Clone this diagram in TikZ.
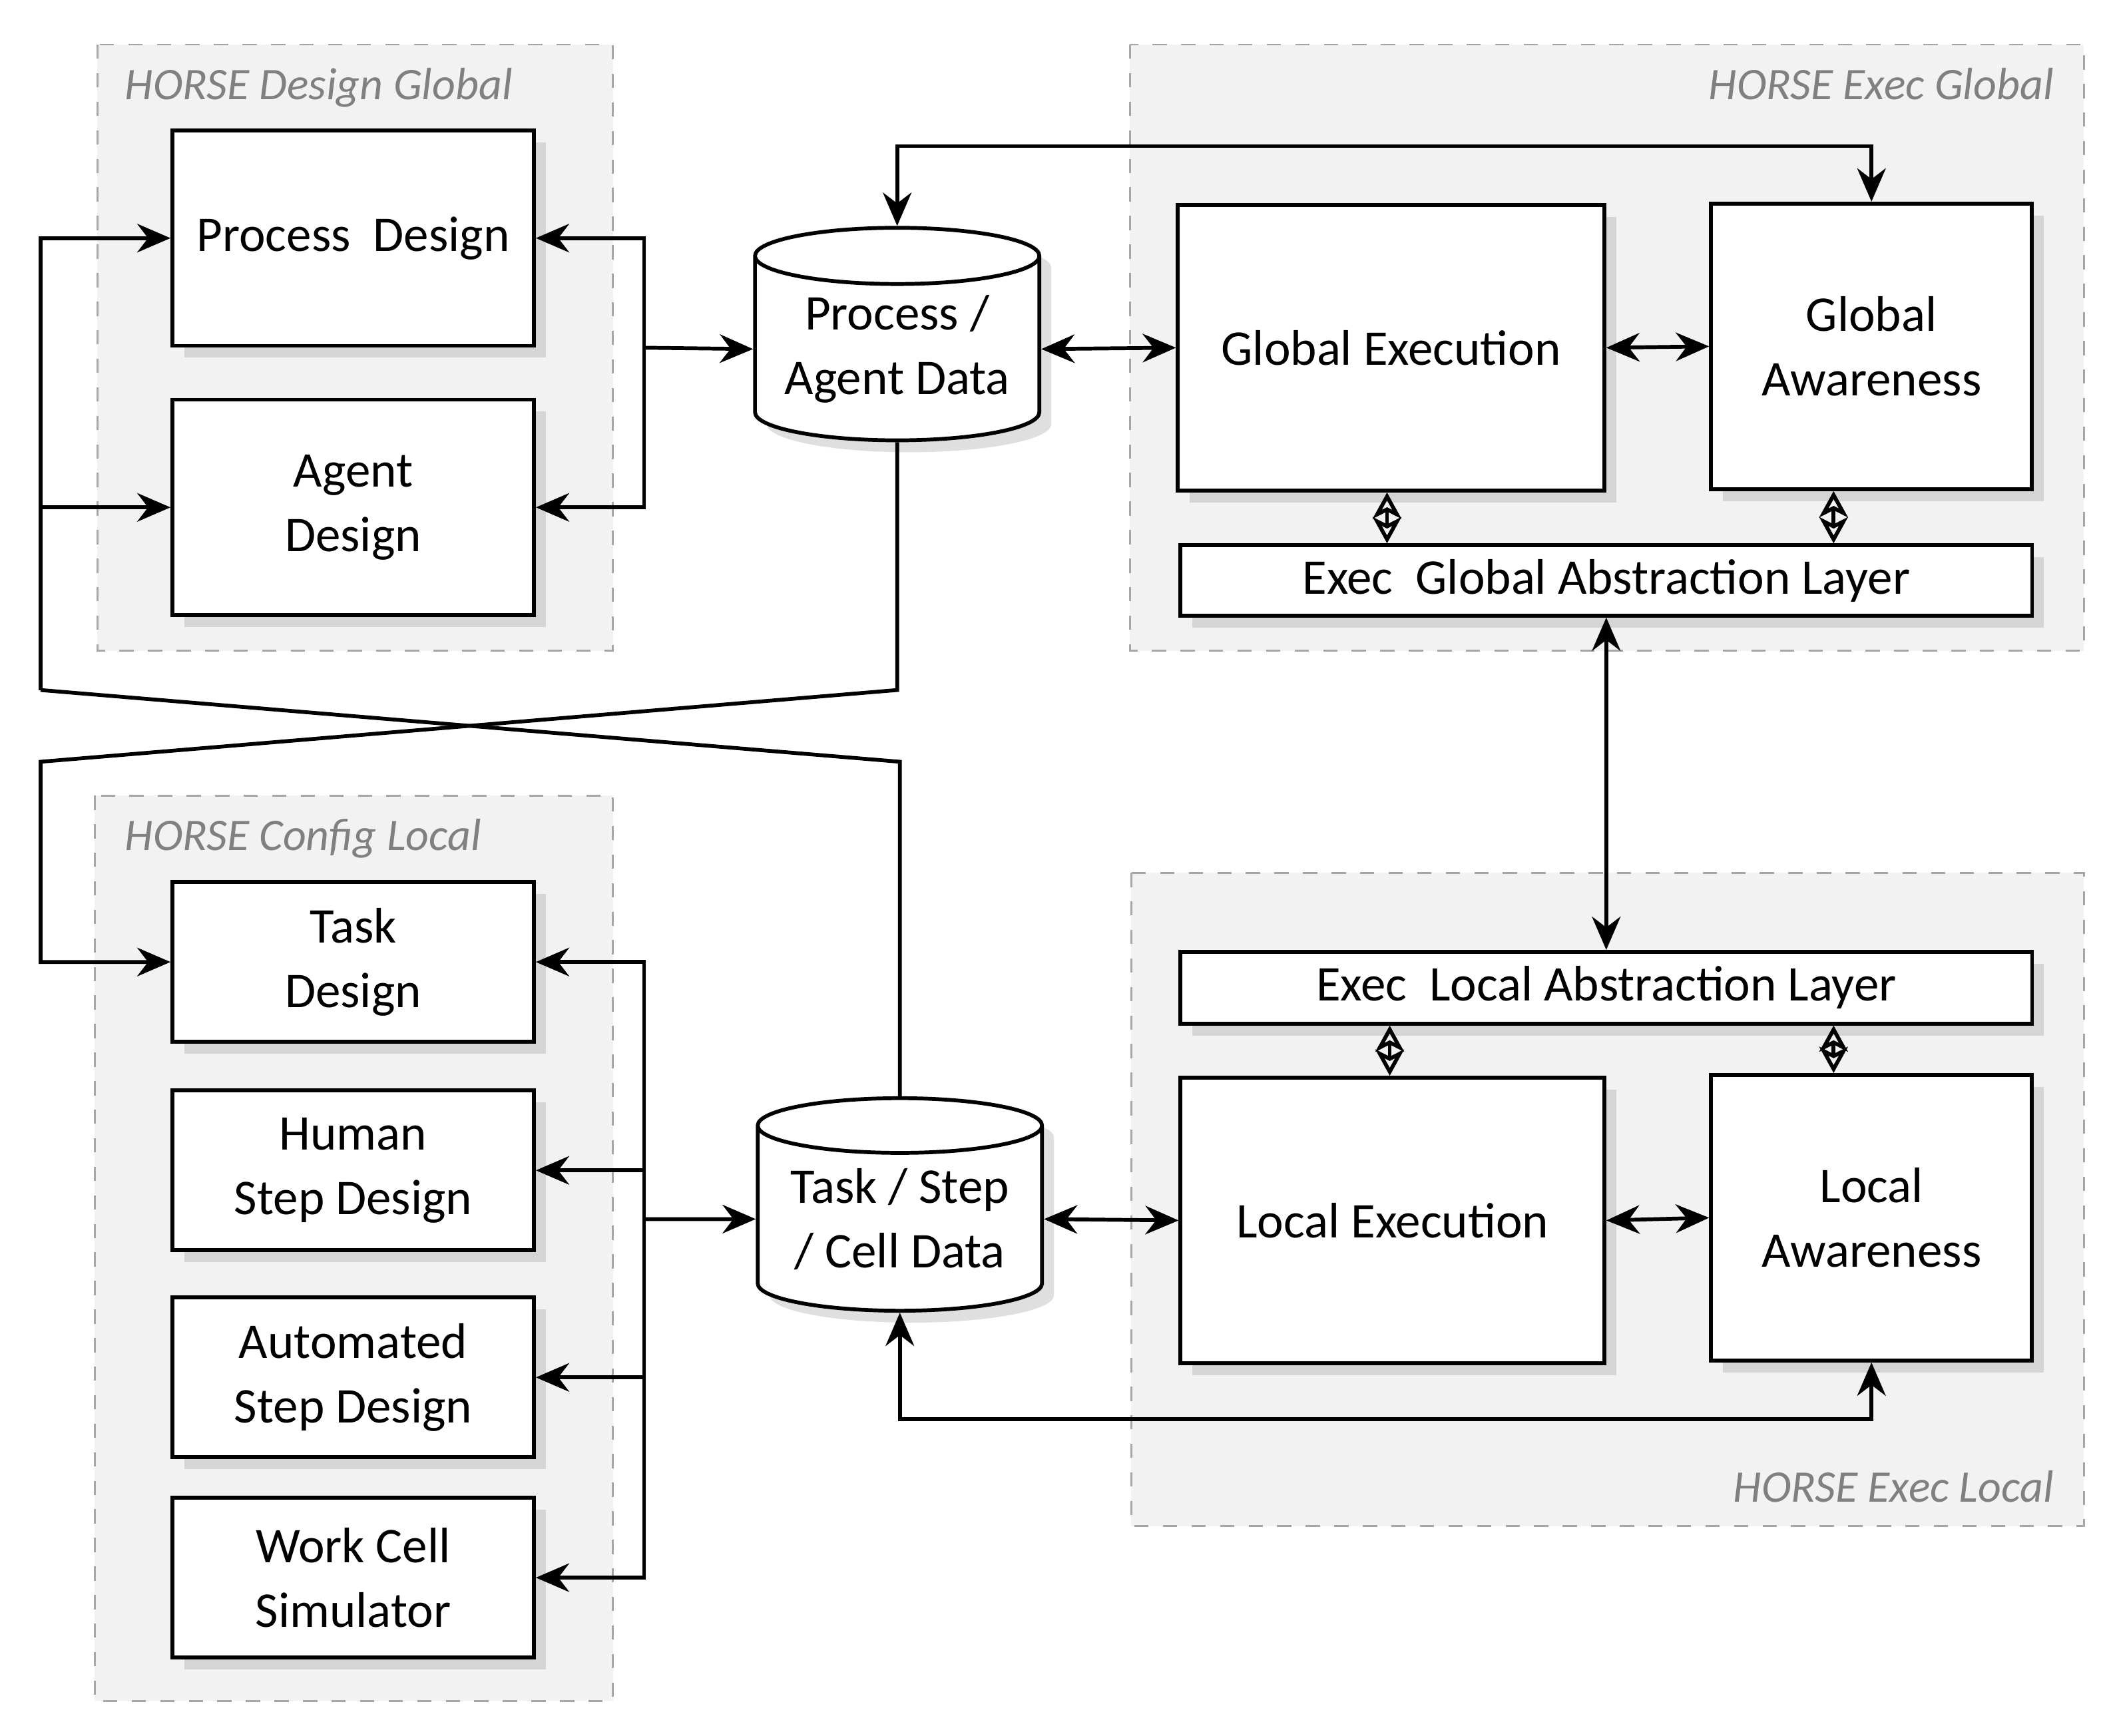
\documentclass[tikz,border=0pt]{standalone}
\usepackage{fontspec}
\setmainfont{Carlito}
\usetikzlibrary{arrows.meta,shapes.geometric,shadows}

\begin{document}
\begin{tikzpicture}[x=0.01cm,y=-0.01cm,
box/.style={draw,thick,fill=white,inner sep=0pt,align=center,font=\fontsize{10.5}{13.5}\selectfont,
  drop shadow={shadow xshift=2.5pt,shadow yshift=-2.5pt,opacity=0.25}},
store/.style={draw,thick,fill=white,cylinder,shape border rotate=90,aspect=0.25,inner sep=0pt,align=center,
  font=\fontsize{10.5}{13.5}\selectfont,drop shadow={shadow xshift=2.5pt,shadow yshift=-2.5pt,opacity=0.25}},
group/.style={draw=gray!70,dashed,fill=gray!10},
grouplabel/.style={font=\itshape\fontsize{9.5}{12}\selectfont,text=gray},
arr/.style={thick,-{Stealth[length=7pt,width=6pt]}},
darr/.style={thick,{Stealth[length=7pt,width=6pt]}-{Stealth[length=7pt,width=6pt]}},
link/.style={thick,{Stealth[open,length=5.5pt,width=6pt,inset=1.5pt]}-{Stealth[open,length=5.5pt,width=6pt,inset=1.5pt]}}]
\useasboundingbox (0,0) rectangle (1560,1283);
% groups
\draw[group] (72,33) rectangle (453,481);
\node[grouplabel,anchor=north west] (gdg) at (80,38) {HORSE Design Global};
\draw[group] (835,33) rectangle (1540,481);
\node[grouplabel,anchor=north east] (geg) at (1530,38) {HORSE Exec Global};
\draw[group] (70,588) rectangle (453,1257);
\node[grouplabel,anchor=north west] (gcl) at (80,593) {HORSE Config Local};
\draw[group] (836,645) rectangle (1540,1128);
\node[grouplabel,anchor=south east] (gel) at (1530,1123) {HORSE Exec Local};
% design boxes
\node[box,minimum width=2.67cm,minimum height=1.59cm] (pd) at (261,176) {Process\ \ Design};
\node[box,minimum width=2.67cm,minimum height=1.59cm] (ad) at (261,375) {Agent\\Design};
\node[box,minimum width=2.67cm,minimum height=1.18cm] (td) at (261,711) {Task\\Design};
\node[box,minimum width=2.67cm,minimum height=1.18cm] (hs) at (261,865) {Human\\Step Design};
\node[box,minimum width=2.67cm,minimum height=1.18cm] (as) at (261,1018) {Automated\\Step Design};
\node[box,minimum width=2.67cm,minimum height=1.18cm] (wc) at (261,1166) {Work Cell\\Simulator};
% data stores
\node[store,minimum width=2.1cm,minimum height=1.57cm] (pad) at (663,258) {Process /\\Agent Data};
\node[store,minimum width=2.1cm,minimum height=1.57cm] (tsc) at (665,901) {Task / Step\\/ Cell Data};
% execution boxes
\node[box,minimum width=3.15cm,minimum height=2.11cm] (ge) at (1028,257) {Global Execution};
\node[box,minimum width=2.37cm,minimum height=2.11cm] (ga) at (1383,256) {Global\\Awareness};
\node[box,minimum width=6.29cm,minimum height=0.52cm] (gal) at (1187,429) {Exec\ \ Global Abstraction Layer};
\node[box,minimum width=6.29cm,minimum height=0.53cm] (lal) at (1187,730) {Exec\ \ Local Abstraction Layer};
\node[box,minimum width=3.13cm,minimum height=2.11cm] (le) at (1029,902) {Local Execution};
\node[box,minimum width=2.37cm,minimum height=2.11cm] (la) at (1383,900) {Local\\Awareness};
% design buses
\coordinate (b1) at (476,257);
\draw[arr] (b1) |- (pd.east);
\draw[arr] (b1) |- (ad.east);
\draw[arr] (b1) -- (pad.west);
\coordinate (b2) at (476,901);
\draw[arr] (b2) |- (td.east);
\draw[arr] (b2) |- (hs.east);
\draw[arr] (b2) |- (as.east);
\draw[arr] (b2) |- (wc.east);
\draw[arr] (b2) -- (tsc.west);
% crossing links
\coordinate (l1) at (30,510);
\draw[arr] (l1) |- (pd.west);
\draw[arr] (l1) |- (ad.west);
\draw[thick] (l1) -- (tsc.north |- 0,563) -- (tsc.north);
\draw[arr] (pad.south) -- (pad.south |- 0,510) -- (30,563) |- (td.west);
% execution links
\draw[darr] (pad.east) -- (ge.west);
\draw[darr] (ge.east) -- (ga.west);
\draw[darr] (pad.north) |- (1383,108) -- (ga.north);
\draw[link] (ge.south -| 1025,0) -- (gal.north -| 1025,0);
\draw[link] (ga.south -| 1355,0) -- (gal.north -| 1355,0);
\draw[darr] (gal.south) -- (lal.north);
\draw[link] (lal.south -| 1027,0) -- (le.north -| 1027,0);
\draw[link] (lal.south -| 1355,0) -- (la.north -| 1355,0);
\draw[darr] (tsc.east) -- (le.west);
\draw[darr] (le.east) -- (la.west);
\draw[darr] (tsc.south) |- (1383,1049) -- (la.south);
\end{tikzpicture}
\end{document}
